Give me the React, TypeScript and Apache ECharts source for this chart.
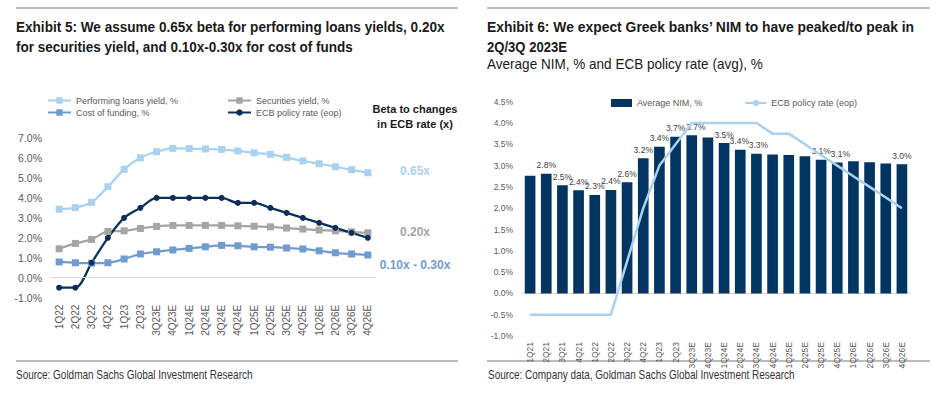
import React, { useEffect, useRef } from "react";
import * as echarts from "echarts";

const leftCategories = ["1Q22","2Q22","3Q22","4Q22","1Q23","2Q23","3Q23E","4Q23E","1Q24E","2Q24E","3Q24E","4Q24E","1Q25E","2Q25E","3Q25E","4Q25E","1Q26E","2Q26E","3Q26E","4Q26E"];
const performingLoansYield = [3.43,3.51,3.78,4.56,5.43,6.01,6.31,6.48,6.47,6.45,6.43,6.35,6.26,6.18,6.03,5.85,5.71,5.56,5.41,5.26];
const securitiesYield = [1.45,1.72,1.92,2.32,2.35,2.47,2.57,2.62,2.62,2.62,2.62,2.60,2.58,2.55,2.49,2.44,2.39,2.35,2.30,2.25];
const costOfFunding = [0.79,0.75,0.73,0.75,0.94,1.19,1.30,1.39,1.47,1.55,1.62,1.60,1.55,1.53,1.49,1.44,1.35,1.25,1.19,1.14];
const ecbRateEop = [-0.5,-0.5,0.75,2.0,3.0,3.5,4.0,4.0,4.0,4.0,4.0,3.75,3.75,3.5,3.25,3.0,2.75,2.5,2.25,2.0];

const rightCategories = ["1Q21","2Q21","3Q21","4Q21","1Q22","2Q22","3Q22","4Q22","1Q23","2Q23","3Q23E","4Q23E","1Q24E","2Q24E","3Q24E","4Q24E","1Q25E","2Q25E","3Q25E","4Q25E","1Q26E","2Q26E","3Q26E","4Q26E"];
const averageNim = [2.76,2.81,2.54,2.42,2.31,2.43,2.61,3.17,3.44,3.68,3.71,3.66,3.53,3.37,3.28,3.26,3.25,3.22,3.14,3.07,3.10,3.08,3.05,3.03];
const ecbRateRight = [-0.5,-0.5,-0.5,-0.5,-0.5,-0.5,0.75,2.0,3.0,3.5,4.0,4.0,4.0,4.0,4.0,3.75,3.75,3.5,3.25,3.0,2.75,2.5,2.25,2.0];
const nimLabelledIdx = [1,2,3,4,5,6,7,8,9,10,12,13,14,18,19,23];

const C_LOANS = "#a9d1f1";
const C_SEC = "#a5a5a5";
const C_COF = "#6f9bd1";
const C_ECB = "#0b2f5b";
const C_BAR = "#033563";
const C_AXIS = "#595959";
const SANS = "'Liberation Sans', Arial, sans-serif";

let measureCtx: CanvasRenderingContext2D | null = null;
function measure(text: string, font: string): number {
  if (!measureCtx) measureCtx = document.createElement("canvas").getContext("2d");
  if (!measureCtx) return 0;
  measureCtx.font = font;
  return measureCtx.measureText(text).width;
}

// text squeezed horizontally to mimic the condensed face of the original
function ctxt(x: number, y: number, text: string, targetWidth: number, o: any = {}) {
  const fontSize = o.fontSize || 14;
  const fontWeight = o.fontWeight || "normal";
  const w = measure(text, `${fontWeight} ${fontSize}px 'Liberation Sans'`);
  const s = w > 0 ? targetWidth / w : 1;
  return {
    type: "text",
    x,
    y,
    scaleX: s,
    silent: true,
    style: {
      text,
      fill: o.fill || "#1a1a1a",
      fontSize,
      fontWeight,
      fontFamily: SANS,
      textAlign: o.align || "left",
      textVerticalAlign: "middle",
    },
  };
}
function txt(x: number, y: number, text: string, o: any = {}) {
  return {
    type: "text",
    x,
    y,
    silent: true,
    style: {
      text,
      fill: o.fill || "#1a1a1a",
      fontSize: o.fontSize || 12,
      fontWeight: o.fontWeight || "normal",
      fontFamily: SANS,
      textAlign: o.align || "left",
      textVerticalAlign: "middle",
    },
  };
}
function hline(x1: number, x2: number, y: number) {
  return {
    type: "line",
    silent: true,
    shape: { x1, y1: y, x2, y2: y },
    style: { stroke: "#a6a6a6", lineWidth: 1.5 },
  };
}

function leftOption(): any {
  const lineSeries = (name: string, data: number[], color: string, symbol: string, size: number) => ({
    name,
    type: "line",
    data,
    smooth: 0.3,
    symbol,
    symbolSize: size,
    lineStyle: { color, width: 2.25 },
    itemStyle: { color },
  });
  const loans: any = lineSeries("Performing loans yield, %", performingLoansYield, C_LOANS, "rect", 7);
  loans.markLine = {
    silent: true,
    symbol: "none",
    label: { show: false },
    lineStyle: { color: "#d9d9d9", width: 1, type: "solid" },
    data: [{ yAxis: 0 }],
  };
  const legendCommon = {
    orient: "vertical",
    top: 96,
    padding: 0,
    itemWidth: 23,
    itemHeight: 8,
    itemGap: 3,
    textStyle: { fontSize: 9, color: C_AXIS, fontFamily: SANS },
  };
  return {
    animation: false,
    grid: { left: 51, top: 138, width: 325, height: 159.7, containLabel: false },
    legend: [
      { ...legendCommon, data: ["Performing loans yield, %", "Cost of funding, %"], left: 47 },
      { ...legendCommon, data: ["Securities yield, %", "ECB policy rate (eop)"], left: 227 },
    ],
    xAxis: {
      type: "category",
      data: leftCategories,
      boundaryGap: true,
      axisLine: { show: false, onZero: false },
      axisTick: { show: false },
      axisLabel: { rotate: 90, fontSize: 10, color: C_AXIS, fontFamily: SANS, margin: 7 },
    },
    yAxis: {
      type: "value",
      min: -1,
      max: 7,
      interval: 1,
      splitLine: { show: false },
      axisLine: { show: false },
      axisTick: { show: false },
      axisLabel: { fontSize: 10.5, color: C_AXIS, fontFamily: SANS, margin: 9, formatter: (v: number) => v.toFixed(1) + "%" },
    },
    series: [
      loans,
      lineSeries("Securities yield, %", securitiesYield, C_SEC, "rect", 7),
      lineSeries("Cost of funding, %", costOfFunding, C_COF, "rect", 7),
      lineSeries("ECB policy rate (eop)", ecbRateEop, C_ECB, "circle", 6),
    ],
    graphic: [
      hline(16, 458, 8),
      ctxt(16, 27, "Exhibit 5: We assume 0.65x beta for performing loans yields, 0.20x", 429, { fontWeight: "bold", fontSize: 14.5 }),
      ctxt(16, 47, "for securities yield, and 0.10x-0.30x for cost of funds", 337, { fontWeight: "bold", fontSize: 14.5 }),
      txt(415, 109, "Beta to changes", { fontWeight: "bold", fontSize: 11, align: "center" }),
      txt(415, 124, "in ECB rate (x)", { fontWeight: "bold", fontSize: 11, align: "center" }),
      txt(415, 171, "0.65x", { fontWeight: "bold", fontSize: 12, align: "center", fill: C_LOANS }),
      txt(415, 232, "0.20x", { fontWeight: "bold", fontSize: 12, align: "center", fill: C_SEC }),
      txt(415, 265, "0.10x - 0.30x", { fontWeight: "bold", fontSize: 12, align: "center", fill: C_COF }),
      hline(16, 458, 361),
      ctxt(16, 375, "Source: Goldman Sachs Global Investment Research", 237, { fontSize: 12, fill: "#333333" }),
    ],
  };
}

function rightOption(): any {
  const labelOffsets: Record<number, number[]> = { 10: [4, 0], 13: [-1, 0], 14: [2, 0], 19: [3, 0] };
  const barData = averageNim.map((v, i) => ({
    value: v,
    label: { show: nimLabelledIdx.indexOf(i) >= 0, offset: labelOffsets[i] || [0, 0] },
  }));
  return {
    animation: false,
    grid: { left: 51, top: 101.7, width: 388, height: 234.3, containLabel: false },
    legend: {
      data: [
        { name: "Average NIM, %", icon: "rect" },
        { name: "ECB policy rate (eop)" },
      ],
      left: 140,
      top: 98.5,
      padding: 0,
      itemWidth: 21,
      itemHeight: 8,
      itemGap: 42,
      textStyle: { fontSize: 9, color: C_AXIS, fontFamily: SANS },
    },
    xAxis: {
      type: "category",
      data: rightCategories,
      boundaryGap: true,
      axisLine: { show: true, onZero: true, lineStyle: { color: "#d9d9d9", width: 1 } },
      axisTick: { show: false },
      axisLabel: { rotate: 90, fontSize: 8.5, color: C_AXIS, fontFamily: SANS, margin: 6 },
    },
    yAxis: {
      type: "value",
      min: -1,
      max: 4.5,
      interval: 0.5,
      splitLine: { show: false },
      axisLine: { show: false },
      axisTick: { show: false },
      axisLabel: { fontSize: 8.5, color: C_AXIS, fontFamily: SANS, margin: 9, formatter: (v: number) => v.toFixed(1) + "%" },
    },
    series: [
      {
        name: "Average NIM, %",
        type: "bar",
        data: barData,
        barCategoryGap: "34%",
        itemStyle: { color: C_BAR },
        label: {
          position: "top",
          distance: 4,
          fontSize: 8.5,
          color: "#404040",
          fontFamily: SANS,
          formatter: (p: any) => Number(p.value).toFixed(1) + "%",
        },
      },
      {
        name: "ECB policy rate (eop)",
        type: "line",
        data: ecbRateRight,
        symbol: "none",
        lineStyle: { color: C_LOANS, width: 2.5 },
        itemStyle: { color: C_LOANS },
      },
    ],
    graphic: [
      hline(16, 459, 8),
      ctxt(16, 27, "Exhibit 6: We expect Greek banks\u2019 NIM to have peaked/to peak in", 428, { fontWeight: "bold", fontSize: 14.5 }),
      ctxt(16, 47, "2Q/3Q 2023E", 80, { fontWeight: "bold", fontSize: 14.5 }),
      ctxt(16, 64.5, "Average NIM, % and ECB policy rate (avg), %", 276, { fontSize: 14 }),
      hline(16, 459, 361),
      ctxt(17, 375, "Source: Company data, Goldman Sachs Global Investment Research", 307, { fontSize: 12, fill: "#333333" }),
    ],
  };
}

export default function App() {
  const leftRef = useRef<HTMLDivElement>(null);
  const rightRef = useRef<HTMLDivElement>(null);
  useEffect(() => {
    const l = echarts.init(leftRef.current!, undefined, { renderer: "svg" });
    const r = echarts.init(rightRef.current!, undefined, { renderer: "svg" });
    l.setOption(leftOption());
    r.setOption(rightOption());
    return () => {
      l.dispose();
      r.dispose();
    };
  }, []);
  return (
    <div style={{ position: "fixed", left: 0, top: 0, width: 942, height: 399, background: "#fff" }}>
      <div ref={leftRef} style={{ position: "absolute", left: 0, top: 0, width: 471, height: 399 }} />
      <div ref={rightRef} style={{ position: "absolute", left: 471, top: 0, width: 471, height: 399 }} />
    </div>
  );
}
